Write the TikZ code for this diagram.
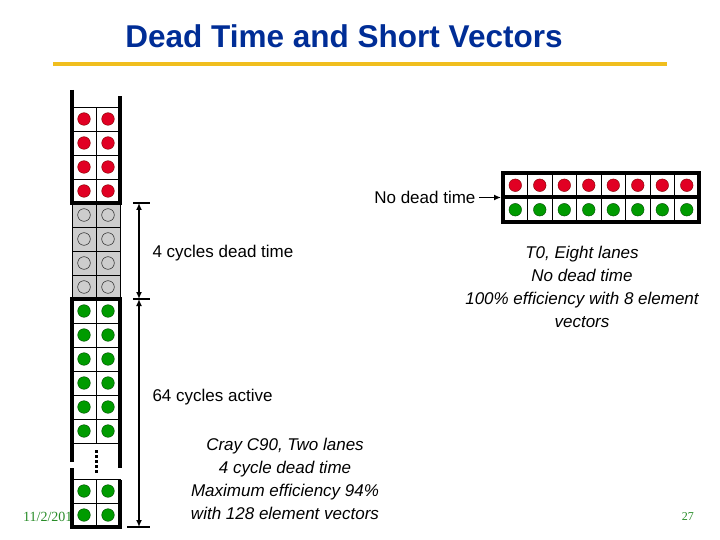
\documentclass[tikz,border=0pt]{standalone}
\usepackage{fontspec}
\setmainfont{Liberation Sans}
\newfontfamily\footfont{Liberation Serif}
\usetikzlibrary{positioning,arrows.meta}
\definecolor{titleblue}{RGB}{0,45,150}
\definecolor{rulegold}{RGB}{240,190,30}
\definecolor{dotred}{RGB}{225,0,35}
\definecolor{dotgreen}{RGB}{0,155,0}
\definecolor{deadgray}{RGB}{205,205,205}
\definecolor{footgreen}{RGB}{40,140,40}
\tikzset{
  cell/.style={draw, fill=white, minimum width=24pt, minimum height=24pt, inner sep=0pt, outer sep=0pt},
  deadcell/.style={cell, fill=deadgray},
  widecell/.style={cell, minimum width=24.5pt, minimum height=24.5pt},
  reddot/.style={draw=red!50!black, fill=dotred},
  greendot/.style={draw=green!30!black, fill=dotgreen},
  deaddot/.style={draw=black, thin},
  wall/.style={line width=4pt},
  dim/.style={line width=1.5pt},
  txt/.style={font=\fontsize{17}{23}\selectfont},
  note/.style={font=\itshape\fontsize{17}{23}\selectfont, align=center},
}

\begin{document}
\begin{tikzpicture}[x=1pt, y=-1pt, >={Latex[length=7pt,width=6pt]}]
  \useasboundingbox (0,0) rectangle (720,540);
  \node[font=\bfseries\fontsize{31.5}{36}\selectfont, text=titleblue] (title) at (344,36) {Dead Time and Short Vectors};
  \draw[rulegold, line width=3.5pt] (53,64) -- (667,64);
  \node[font=\footfont\fontsize{14}{16}\selectfont, text=footgreen, anchor=west, inner sep=0pt] (date) at (23,517) {11/2/2010};
  \node[font=\footfont\fontsize{12}{14}\selectfont, text=footgreen, anchor=east, inner sep=0pt] (pagenum) at (694,517) {27};

  % two lanes, 4 busy, 4 dead, then active
  \foreach \r in {1,...,4} \foreach \c in {1,2} {
    \node[cell] (red-\r-\c) at ({60+24*\c},{95+24*\r}) {};
    \draw[reddot] (red-\r-\c.center) circle (6.3pt);
    \node[deadcell] (gray-\r-\c) at ({60+24*\c},{191+24*\r}) {};
    \draw[deaddot] (gray-\r-\c.center) circle (6.3pt);
  }
  \foreach \r in {1,...,6} \foreach \c in {1,2} {
    \node[cell] (green-\r-\c) at ({60+24*\c},{287+24*\r}) {};
    \draw[greendot] (green-\r-\c.center) circle (6.3pt);
  }
  \foreach \r in {1,2} \foreach \c in {1,2} {
    \node[cell] (last-\r-\c) at ({60+24*\c},{467+24*\r}) {};
    \draw[greendot] (last-\r-\c.center) circle (6.3pt);
  }
  \draw[wall] (72,90) -- (72,203) -- (120,203) -- (120,96);
  \draw[wall] (72,462) -- (72,299) -- (120,299) -- (120,468);
  \draw[wall] (72,468) -- (72,527) -- (120,527) -- (120,480);
  \draw[line width=3pt, dash pattern=on 3pt off 2pt] (96,450) -- (96,473);

  % dimension lines
  \coordinate (d0) at (139,203);
  \coordinate (d1) at (139,299);
  \coordinate (d2) at (139,527);
  \draw[dim] ([xshift=-6pt]d0) -- ([xshift=11pt]d0);
  \draw[dim] ([xshift=-6pt]d1) -- ([xshift=11pt]d1);
  \draw[dim] ([xshift=-12pt]d2) -- ([xshift=11pt]d2);
  \draw[dim, <->] (d0) -- (d1);
  \draw[dim, <->] (d1) -- (d2);
  \node[txt, anchor=west] (dead) at (149,253) {4 cycles dead time};
  \node[txt, anchor=west] (active) at (149,397) {64 cycles active};
  \node[note] (cray) at (285,479) {Cray C90, Two lanes\\4 cycle dead time\\Maximum efficiency 94\%\\with 128 element vectors};

  % eight lanes
  \foreach \c in {1,...,8} {
    \node[widecell] (top-\c) at ({490.75+24.5*\c},185.25) {};
    \draw[reddot] (top-\c.center) circle (6.3pt);
    \node[widecell] (bot-\c) at ({490.75+24.5*\c},209.75) {};
    \draw[greendot] (bot-\c.center) circle (6.3pt);
  }
  \draw[wall] (top-1.north west) rectangle (bot-8.south east);
  \draw[wall] (bot-1.north west) -- (bot-8.north east);
  \node[txt, anchor=east] (nodead) at (479,197.5) {No dead time};
  \draw[dim, ->, shorten >=2pt] (nodead.east) -- (bot-1.north west);
  \node[note] (eight) at (582,287) {T0, Eight lanes\\No dead time\\100\% efficiency with 8 element\\vectors};
\end{tikzpicture}
\end{document}
